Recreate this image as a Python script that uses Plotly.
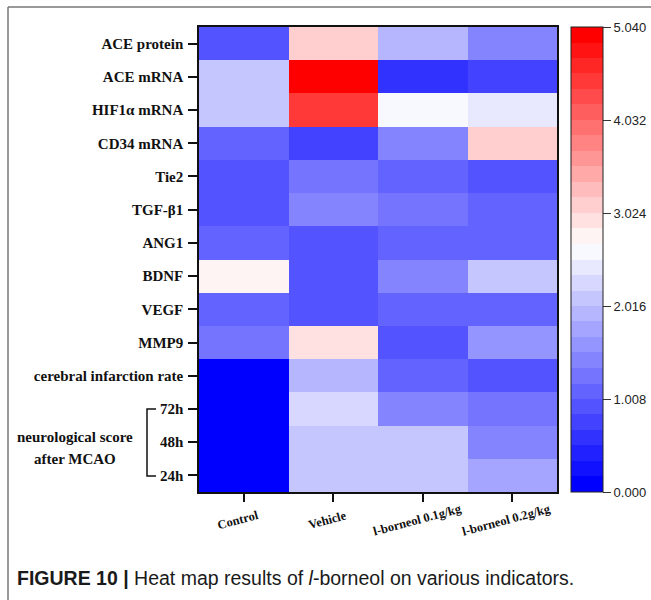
import plotly.graph_objects as go

# ---------------- data ----------------
groups = ["Control", "Vehicle", "l-borneol 0.1g/kg", "l-borneol 0.2g/kg"]
indicators = ["ACE protein", "ACE mRNA", "HIF1α mRNA", "CD34 mRNA", "Tie2", "TGF-β1",
              "ANG1", "BDNF", "VEGF", "MMP9", "cerebral infarction rate",
              "72h", "48h", "24h"]
control    = [0.92, 2.10, 2.10, 1.09, 0.92, 0.92, 1.09, 2.80, 1.09, 1.26, 0.05, 0.05, 0.05, 0.05]
vehicle    = [3.11, 5.00, 4.40, 0.76, 1.26, 1.43, 0.92, 0.92, 0.92, 2.94, 1.93, 2.27, 2.10, 2.10]
borneol_01 = [1.93, 0.59, 2.60, 1.43, 1.09, 1.26, 1.09, 1.43, 1.09, 0.92, 1.09, 1.43, 2.10, 2.10]
borneol_02 = [1.43, 0.76, 2.44, 3.11, 0.92, 1.09, 1.09, 2.10, 1.09, 1.60, 0.92, 1.26, 1.43, 1.76]
cbar_ticks = [0.0, 1.008, 2.016, 3.024, 4.032, 5.040]
group_label = ["neurological score", "after MCAO"]
caption = "<b>FIGURE 10 |</b> Heat map results of <i>l</i>-borneol on various indicators."

# ---------------- colour scale (30 discrete steps, blue-white-red) ----------------
ZMAX = 5.04
NSTEP = 30
step = ZMAX / NSTEP
lo, hi, white = step / 2, ZMAX - step / 2, 2.674


def col(v):
    if v <= white:
        t = max(0.0, (v - lo) / (white - lo))
        g = round(255 * t)
        return f"rgb({g},{g},255)"
    s = min(1.0, (v - white) / (hi - white))
    g = round(255 * (1 - s))
    return f"rgb(255,{g},{g})"


cscale = []
for k in range(NSTEP):
    c = col((k + 0.5) * step)
    cscale.append([k / NSTEP, c])
    cscale.append([(k + 1) / NSTEP, c])

z = [[control[i], vehicle[i], borneol_01[i], borneol_02[i]] for i in range(len(indicators))]

# ---------------- geometry (pixels) ----------------
W, H = 651, 600
PL, PR, PT, PB = 199, 557, 27, 492


def px(x):
    return (x - PL) / (PR - PL)


def py(y):
    return (PB - y) / (PB - PT)


fig = go.Figure(go.Heatmap(
    z=z, x=list(range(len(groups))), y=list(range(len(indicators))),
    zmin=0, zmax=ZMAX, colorscale=cscale, xgap=0, ygap=0,
    colorbar=dict(
        thickness=32, thicknessmode="pixels", len=1, lenmode="fraction",
        x=px(571), xanchor="left", xpad=0, y=0.5, yanchor="middle", ypad=0,
        outlinewidth=1, outlinecolor="#222",
        tickmode="array", tickvals=cbar_ticks, ticktext=[f"{v:.3f}" for v in cbar_ticks],
        ticks="outside", ticklen=8, tickcolor="#333", tickwidth=1,
        tickfont=dict(family="Liberation Sans, Arial", size=13, color="#222"),
    ),
    hoverinfo="skip",
))

serif_bold = dict(family="Liberation Serif, Times New Roman", size=15, color="#111", weight="bold")

fig.update_xaxes(
    range=[-0.5, len(groups) - 0.5], tickmode="array", tickvals=list(range(len(groups))),
    ticktext=[""] * len(groups), ticks="outside", ticklen=8, tickwidth=1.5, tickcolor="#111",
    showline=True, linecolor="#111", linewidth=1.5, mirror=True, showgrid=False, zeroline=False,
)
fig.update_yaxes(
    range=[len(indicators) - 0.5, -0.5], tickmode="array", tickvals=list(range(len(indicators))),
    ticktext=indicators, ticks="outside", ticklen=9, tickwidth=1.5, tickcolor="#111",
    tickfont=serif_bold, ticklabelstandoff=2,
    showline=True, linecolor="#111", linewidth=1.5, mirror=True, showgrid=False, zeroline=False,
)

annotations = []
# rotated x labels
for i, g in enumerate(groups):
    annotations.append(dict(
        x=i - 0.06, xref="x", y=py(520), yref="paper", text=g, showarrow=False,
        textangle=-15, xanchor="center", yanchor="middle",
        font=dict(family="Liberation Serif, Times New Roman", size=12.5, color="#111", weight="bold"),
    ))
# group label for neurological score
for j, t in enumerate(group_label):
    annotations.append(dict(
        x=px(75), xref="paper", y=py(437 + 22 * j), yref="paper", text=t, showarrow=False,
        xanchor="center", yanchor="middle", font=serif_bold,
    ))
# caption
annotations.append(dict(
    x=px(15), xref="paper", y=py(578), yref="paper", text=caption, showarrow=False,
    xanchor="left", yanchor="middle",
    font=dict(family="Liberation Sans, Arial", size=19.5, color="#1a1a1a"),
))

shapes = [
    # bracket
    dict(type="path", xref="paper", yref="paper",
         path=f"M {px(156)},{py(409)} L {px(147)},{py(409)} L {px(147)},{py(476)} L {px(156)},{py(476)}",
         line=dict(color="#111", width=1.5)),
    # frame lines of the figure panel
    dict(type="line", xref="paper", yref="paper", x0=px(8), y0=py(7), x1=px(651), y1=py(7),
         line=dict(color="#777", width=1.5)),
    dict(type="line", xref="paper", yref="paper", x0=px(8), y0=py(7), x1=px(8), y1=py(600),
         line=dict(color="#777", width=1.5)),
]

fig.update_layout(
    width=W, height=H, margin=dict(l=PL, r=W - PR, t=PT, b=H - PB, autoexpand=False),
    paper_bgcolor="white", plot_bgcolor="white",
    annotations=annotations, shapes=shapes, showlegend=False,
)

fig.write_html("out.html")
